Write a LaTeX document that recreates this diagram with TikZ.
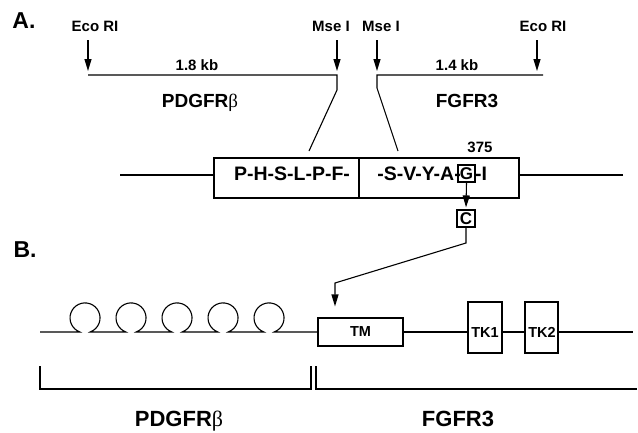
\documentclass[tikz,border=0pt]{standalone}
\usepackage{fontspec}
\setmainfont{Liberation Sans}
\newfontfamily\greekf{Liberation Serif}
\usetikzlibrary{arrows.meta}
\newcommand{\fsz}[1]{\bfseries\fontsize{#1}{#1}\selectfont}
\newcommand{\betaL}{{\greekf\mdseries β}}
\tikzset{
  ln/.style={line width=1.1pt, line join=miter},
  arr/.style={ln, -{Triangle[length=12pt,width=7pt]}},
  txt/.style={inner sep=0pt, anchor=base},
  panel/.style={txt, font=\fsz{23}},
  site/.style={txt, font=\fsz{15}},
  kb/.style={txt, font=\fsz{15}},
  gene/.style={txt, font=\fsz{19}},
  genebig/.style={txt, font=\fsz{22}},
  seq/.style={txt, font=\fsz{19.5}},
  segbox/.style={draw, line width=1.1pt, inner sep=0pt, minimum height=40pt},
  res/.style={draw, line width=1.1pt, inner sep=0pt, minimum width=17pt, minimum height=17pt, font=\fsz{17}},
  dom/.style={draw, line width=1.1pt, inner sep=0pt, font=\fsz{14.5}},
  tkbox/.style={draw, line width=1.1pt, inner sep=0pt, minimum height=51pt},
}
\begin{document}
\begin{tikzpicture}[x=1pt,y=-1pt]
\useasboundingbox (0,0) rectangle (638,432);

% ---------- Panel A ----------
\node[panel] (A) at (24,28) {A.};
\node[site] (eco1) at (95,31) {Eco RI};
\node[site] (mse1) at (331,31) {Mse I};
\node[site] (mse2) at (381,31) {Mse I};
\node[site] (eco2) at (543,31) {Eco RI};

\coordinate (pL) at (88,75);
\coordinate (pMa) at (337,75);
\coordinate (pMb) at (377,75);
\coordinate (pR) at (543,75);
\coordinate (pEco2) at (537,75);

\draw[arr, shorten >=4pt] ([yshift=-9pt]eco1.south -| pL) -- (pL);
\draw[arr, shorten >=4pt] ([yshift=-9pt]mse1.south -| pMa) -- (pMa);
\draw[arr, shorten >=4pt] ([yshift=-9pt]mse2.south -| pMb) -- (pMb);
\draw[arr, shorten >=4pt] ([yshift=-9pt]eco2.south -| pEco2) -- (pEco2);

\coordinate (jl) at (309,151);
\coordinate (jr) at (398,151);
\draw[ln] (pL) -- (pMa) -- ++(0,15) -- (jl);
\draw[ln] (pR) -- (pMb) -- ++(0,13) -- (jr);

\node[kb] (kb1) at (197,70) {1.8 kb};
\node[kb] (kb2) at (457,70) {1.4 kb};
\node[gene] (pdgA) at (200,107) {PDGFR\betaL};
\node[gene] (fgfA) at (467,107) {FGFR3};

% fusion sequence box
\node[segbox, minimum width=145pt] (segL) at (286.5,178) {};
\node[segbox, minimum width=160pt] (segR) at (439,178) {};
\coordinate (m0) at (120,175);
\coordinate (m1) at (623,175);
\draw[ln] (m0) -- (m0 -| segL.west);
\draw[ln] (m1) -- (m1 -| segR.east);

\node[seq] (s1) at (292,180) {P-H-S-L-P-F-};
\node[seq, anchor=base east] (s2) at (461,180) {-S-V-Y-A-};
\node[res] (G) at (466.5,173.5) {G};
\node[seq, anchor=base west] (s3) at (475,180) {-I};
\node[kb] (n375) at (480,152) {375};

\node[res, minimum width=18pt] (C) at (466,218.5) {C};
\draw[arr, shorten >=2pt] (G.south) -- (C.north);

% ---------- Panel B ----------
\node[panel] (B) at (25,257) {B.};

\node[dom, minimum width=85pt, minimum height=28pt] (TM) at (360.5,332) {TM};
\node[tkbox, minimum width=34pt] (TK1) at (485,327.5) {};
\node[tkbox, minimum width=33pt] (TK2) at (541.5,327.5) {};
\node[site, font=\fsz{14.5}] (tk1lab) at (485,337) {TK1};
\node[site, font=\fsz{14.5}] (tk2lab) at (542,337) {TK2};

\coordinate (k1) at (466,243);
\coordinate (k2) at (335,283);
\draw[arr, shorten >=11pt] (C.south) -- (k1) -- (k2) -- (TM.north -| k2);

\coordinate (b0) at (40,332);
\coordinate (bend) at (633,332);
\draw[ln] (b0) -- (79.9,332) arc[start angle=250,end angle=-70,radius=15pt]
  -- (125.9,332) arc[start angle=250,end angle=-70,radius=15pt]
  -- (171.9,332) arc[start angle=250,end angle=-70,radius=15pt]
  -- (217.9,332) arc[start angle=250,end angle=-70,radius=15pt]
  -- (263.9,332) arc[start angle=250,end angle=-70,radius=15pt]
  -- (TM.west);
\draw[ln] (TM.east) -- (TM.east -| TK1.west);
\draw[ln] (TM.east -| TK1.east) -- (TM.east -| TK2.west);
\draw[ln] (TM.east -| TK2.east) -- (bend);

% brackets
\draw[ln] (40,366) -- (40,389) -- (311,389) -- (311,366);
\draw[ln] (316,366) -- (316,389) -- (637,389);

\node[genebig] (pdgB) at (179,426) {PDGFR\betaL};
\node[genebig] (fgfB) at (458,426) {FGFR3};
\end{tikzpicture}
\end{document}
